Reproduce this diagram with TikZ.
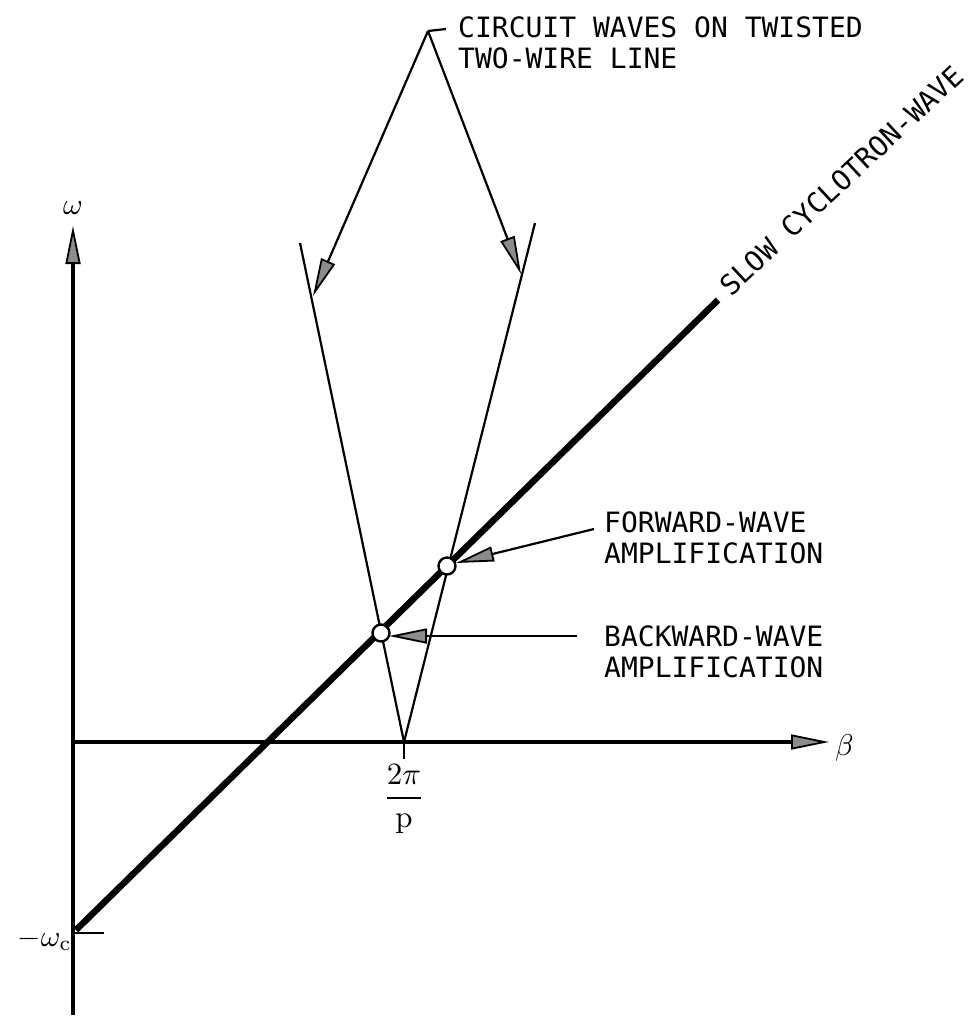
\documentclass[tikz,border=0pt]{standalone}
\usepackage{graphicx}
\usepackage{fontspec}
\usetikzlibrary{arrows.meta}
\newfontfamily\lettering{DejaVu Sans Mono}
\newcommand{\axlbl}[1]{\scalebox{3}{$#1$}}
\begin{document}
\begin{tikzpicture}[x=1pt,y=-1pt,
  lbl/.style={font=\lettering\fontsize{28}{31}\selectfont, inner sep=0pt, align=left},
  mathlbl/.style={inner sep=0pt},
  axis/.style={line width=3.2pt},
  wire/.style={line width=2.2pt},
  bigtip/.style={-{Triangle[length=38pt,width=15pt,fill=black!45,line width=1.8pt]}},
  ptr/.style={line width=2.2pt,-{Triangle[length=38pt,width=15pt,fill=black!45,line width=1.8pt]}},
  dot/.style={circle, draw, line width=2.4pt, fill=white, minimum size=17pt, inner sep=0pt}]
\useasboundingbox (0,0) rectangle (979,1029);
% axes
\coordinate (O) at (73,742);
\coordinate (ytop) at (73,226);
\coordinate (ybot) at (73,1015);
\coordinate (xend) at (829,742);
\draw[axis] (ybot) -- (O);
\draw[axis,bigtip] (O) -- (ytop);
\draw[axis,bigtip] (O) -- (xend);
\node[mathlbl] (om) at (73,208) {\axlbl{\omega}};
\node[mathlbl, anchor=west] (be) at (835,748) {\axlbl{\beta}};
% tick at 2pi/p
\coordinate (V) at (404,742);
\coordinate (Vt) at (404,759);
\draw[line width=2.8pt] (V) -- (Vt);
\node[mathlbl] (frac) at (404,799) {\scalebox{3.1}{$\displaystyle\frac{2\pi}{\mathrm{p}}$}};
% -omega_c tick
\coordinate (wc) at (74,933);
\coordinate (wct) at (104,933);
\draw[line width=2.8pt] (wc) -- (wct);
\node[mathlbl, anchor=east] (wclab) at (72,940) {\axlbl{-\omega_{\mathrm{c}}}};
% slow cyclotron wave
\coordinate (sc0) at (76,930);
\coordinate (sc1) at (718,300);
\draw[line width=6.5pt] (sc0) -- (sc1);
\node[lbl, anchor=west, rotate=43] (slow) at (724,290) {SLOW CYCLOTRON-WAVE};
% circuit wave lines
\coordinate (L0) at (300,243);
\coordinate (R0) at (535,223);
\draw[wire] (L0) -- (V) -- (R0);
% intersections
\node[dot] (fw) at (447,566) {};
\node[dot] (bw) at (381,633) {};
% circuit label
\node[lbl, anchor=base west] (circ) at (458,68) {CIRCUIT WAVES ON TWISTED\\TWO-WIRE LINE};
\coordinate (c0) at (428,31);
\coordinate (c1) at (446,29);
\draw[wire] (c1) -- (c0);
\coordinate (ltip) at (313,296);
\coordinate (rtip) at (521,274);
\draw[ptr] (c0) -- (ltip);
\draw[ptr] (c0) -- (rtip);
% forward / backward labels
\node[lbl, anchor=base west] (fwl) at (604,563) {FORWARD-WAVE\\AMPLIFICATION};
\node[lbl, anchor=base west] (bwl) at (604,677) {BACKWARD-WAVE\\AMPLIFICATION};
\coordinate (f0) at (594,529);
\coordinate (ftip) at (456,563);
\draw[ptr] (f0) -- (ftip);
\coordinate (b0) at (577,636);
\coordinate (btip) at (389,636);
\draw[ptr] (b0) -- (btip);
\end{tikzpicture}
\end{document}
